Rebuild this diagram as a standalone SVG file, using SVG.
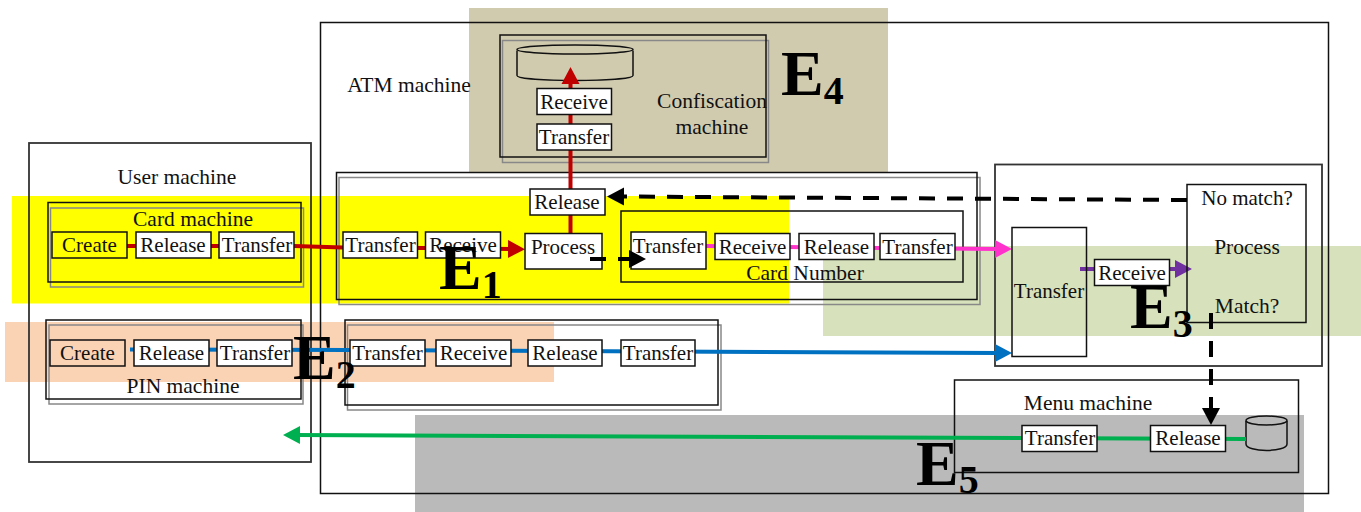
<svg xmlns="http://www.w3.org/2000/svg" width="1361" height="512" viewBox="0 0 1361 512">
<style>
text{font-family:"Liberation Serif","Times New Roman",serif;font-size:21.500px;fill:#111;text-anchor:middle}
.box{fill:none;stroke:#111;stroke-width:1.5}
.frame{fill:none;stroke:#333;stroke-width:1.8}
.shadow{fill:none;stroke:#888;stroke-width:1.5}
.n{fill:#fff;stroke:#111;stroke-width:1.5}
.n + text,.o + text{font-size:21px}
.o{fill:none;stroke:#111;stroke-width:1.5}
.c{fill:none;stroke-width:4}
.d{fill:none;stroke:#000;stroke-width:4;stroke-dasharray:16 12}
.e{font-weight:bold;font-size:64px;fill:#000;text-anchor:start}
.e tspan{font-size:40px}
</style>
<defs>
<marker id="aRed" markerUnits="userSpaceOnUse" markerWidth="18" markerHeight="20" refX="4" refY="10" orient="auto"><path d="M0,1L17,10L0,19Z" fill="#c00000"/></marker>
<marker id="aPink" markerUnits="userSpaceOnUse" markerWidth="18" markerHeight="20" refX="4" refY="10" orient="auto"><path d="M0,1L17,10L0,19Z" fill="#ff33cc"/></marker>
<marker id="aBlue" markerUnits="userSpaceOnUse" markerWidth="18" markerHeight="20" refX="4" refY="10" orient="auto"><path d="M0,1L17,10L0,19Z" fill="#0070c0"/></marker>
<marker id="aPurple" markerUnits="userSpaceOnUse" markerWidth="18" markerHeight="20" refX="4" refY="10" orient="auto"><path d="M0,1L17,10L0,19Z" fill="#7030a0"/></marker>
<marker id="aGreen" markerUnits="userSpaceOnUse" markerWidth="18" markerHeight="20" refX="4" refY="10" orient="auto"><path d="M0,1L17,10L0,19Z" fill="#00b050"/></marker>
<marker id="aBlack" markerUnits="userSpaceOnUse" markerWidth="18" markerHeight="20" refX="4" refY="10" orient="auto"><path d="M0,1L17,10L0,19Z" fill="#000"/></marker>
</defs>

<g id="regions">
<rect x="469" y="8" width="419" height="164.500" fill="#d0cbaf"/>
<rect x="12" y="196" width="777" height="107.500" fill="#ffff00"/>
<rect x="823" y="246" width="538" height="90" fill="#d7e2bc"/>
<rect x="5" y="322" width="549" height="60" fill="#fad3b5"/>
<rect x="415" y="415" width="889" height="97" fill="#bababa"/>
</g>

<g id="atm-machine"><rect class="box" x="320.500" y="22.500" width="1008" height="471"/><text x="409" y="92">ATM machine</text></g>
<g id="user-machine"><rect class="frame" x="29" y="143" width="282" height="319"/><text x="177" y="184">User machine</text></g>
<g id="card-machine"><rect class="shadow" x="50.500" y="208" width="253" height="79"/><rect class="box" x="48" y="202.500" width="253" height="79.500"/><text x="193" y="226">Card machine</text></g>
<g id="pin-machine"><rect class="shadow" x="49" y="325" width="254" height="79"/><rect class="box" x="46" y="320" width="255" height="79"/><text x="183" y="393">PIN machine</text></g>
<g id="card-process-machine"><rect class="shadow" x="339" y="177.500" width="641" height="127"/><rect class="box" x="336.500" y="172.500" width="640.500" height="127"/></g>
<g id="pin-process-machine"><rect class="shadow" x="347.500" y="325" width="373.500" height="85"/><rect class="box" x="345" y="320" width="373" height="85"/></g>
<g id="confiscation-machine"><rect class="shadow" x="502.500" y="40.500" width="266" height="122"/><rect class="box" x="500" y="35" width="266" height="122"/><text x="712" y="108">Confiscation</text><text x="712" y="134">machine</text>
<path class="o" d="M517,50.500V75.500C517,82 633,82 633,75.500V50.500"/><ellipse class="o" cx="575" cy="49.500" rx="58" ry="4.500"/></g>
<g id="card-number"><rect class="box" x="621" y="211" width="342" height="71"/><text x="805" y="280">Card Number</text></g>
<g id="compare-machine"><rect class="frame" x="995" y="164.500" width="327" height="201.500"/></g>
<g id="menu-machine"><rect class="box" x="954.500" y="380" width="344" height="92.500"/><text x="1088" y="410">Menu machine</text>
<path class="o" d="M1246,421V444C1246,452.500 1287,452.500 1287,444V421"/><ellipse class="o" cx="1266.500" cy="420.500" rx="20.500" ry="4.500"/></g>

<g id="connectors">
<path class="c" stroke="#c00000" d="M127,246L294,246L343,247.500L425,248L512,249" marker-end="url(#aRed)"/>
<path class="c" stroke="#c00000" d="M570.500,233V80" marker-end="url(#aRed)"/>
<path class="c" stroke="#ff33cc" d="M706,246L880,248L999,249" marker-end="url(#aPink)"/>
<path class="c" stroke="#0070c0" d="M130,349.500L350,350L999,353" marker-end="url(#aBlue)"/>
<path class="c" stroke="#7030a0" d="M1080,269H1179" marker-end="url(#aPurple)"/>
<path class="c" stroke="#00b050" d="M1246,439L1022,438L296,435" marker-end="url(#aGreen)"/>
</g>

<g id="card-create"><rect class="o" x="52" y="232" width="75" height="26"/><text x="89.500" y="252">Create</text></g>
<g id="card-release"><rect class="n" x="136" y="232" width="75" height="26"/><text x="173" y="252">Release</text></g>
<g id="card-transfer"><rect class="n" x="219" y="232" width="75" height="26"/><text x="257" y="252">Transfer</text></g>
<g id="pin-create"><rect class="o" x="50" y="340" width="75" height="26"/><text x="87.500" y="360">Create</text></g>
<g id="pin-release"><rect class="n" x="134" y="340" width="75" height="26"/><text x="171.500" y="360">Release</text></g>
<g id="pin-transfer"><rect class="n" x="217" y="340" width="75" height="26"/><text x="255" y="360">Transfer</text></g>
<g id="atm-card-transfer"><rect class="n" x="343" y="232" width="74.500" height="26"/><text x="380.500" y="252">Transfer</text></g>
<g id="atm-card-receive"><rect class="n" x="425.500" y="232" width="75" height="26"/><text x="463" y="252">Receive</text></g>
<g id="atm-process"><rect class="n" x="525" y="233.500" width="77" height="35.500"/><text x="563" y="254">Process</text></g>
<g id="atm-release"><rect class="n" x="530" y="189" width="75" height="26"/><text x="567" y="209">Release</text></g>
<g id="conf-receive"><rect class="n" x="537" y="88.500" width="74.500" height="26"/><text x="574" y="109">Receive</text></g>
<g id="conf-transfer"><rect class="n" x="537" y="124" width="74.500" height="26"/><text x="574" y="144">Transfer</text></g>
<g id="num-transfer"><rect class="n" x="631" y="232" width="75" height="37"/><text x="668" y="253">Transfer</text></g>
<g id="num-receive"><rect class="n" x="715" y="233.500" width="75" height="26"/><text x="752.500" y="254">Receive</text></g>
<g id="num-release"><rect class="n" x="799" y="233.500" width="75" height="26"/><text x="836.500" y="254">Release</text></g>
<g id="num-transfer2"><rect class="n" x="880" y="233.500" width="75" height="26"/><text x="917.500" y="254">Transfer</text></g>
<g id="atm-pin-transfer"><rect class="n" x="350" y="340" width="75" height="26"/><text x="387.500" y="360">Transfer</text></g>
<g id="atm-pin-receive"><rect class="n" x="436" y="340" width="75" height="26"/><text x="473.500" y="360">Receive</text></g>
<g id="atm-pin-release"><rect class="n" x="528" y="340" width="74" height="26"/><text x="565" y="360">Release</text></g>
<g id="atm-pin-transfer2"><rect class="n" x="621" y="340" width="74" height="26"/><text x="658" y="360">Transfer</text></g>
<g id="cmp-transfer"><rect class="o" x="1012" y="227.500" width="74.500" height="129"/><text x="1049" y="298">Transfer</text></g>
<g id="cmp-receive"><rect class="n" x="1094.500" y="259.500" width="75" height="26"/><text x="1132" y="280">Receive</text></g>
<g id="cmp-process"><rect class="o" x="1187" y="184.500" width="119" height="138"/><text x="1247" y="205">No match?</text><text x="1247" y="254">Process</text><text x="1247" y="313">Match?</text></g>
<g id="menu-transfer"><rect class="n" x="1022" y="425.500" width="75" height="26"/><text x="1060" y="445">Transfer</text></g>
<g id="menu-release"><rect class="n" x="1150.500" y="425.500" width="75" height="26"/><text x="1188" y="445">Release</text></g>

<g id="dashed-connectors">
<path class="d" d="M1187,200L620,196.500" marker-end="url(#aBlack)"/>
<path class="d" d="M590,259H633" marker-end="url(#aBlack)"/>
<path class="d" d="M1211,313V412" marker-end="url(#aBlack)"/>
</g>

<g id="labels">
<text class="e" x="439" y="289">E<tspan dy="9">1</tspan></text>
<text class="e" x="293" y="379">E<tspan dy="9">2</tspan></text>
<text class="e" x="1130" y="328">E<tspan dy="9">3</tspan></text>
<text class="e" x="781" y="95">E<tspan dy="9">4</tspan></text>
<text class="e" x="916" y="485">E<tspan dy="8">5</tspan></text>
</g>
</svg>
